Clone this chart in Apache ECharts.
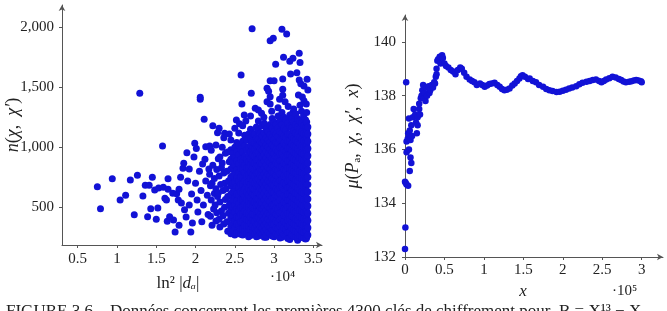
<!DOCTYPE html>
<html>
<head>
<meta charset="utf-8">
<title>n(chi, chi') and mu(P_a, chi, chi', x)</title>
<script src="https://cdn.jsdelivr.net/npm/echarts@6/dist/echarts.min.js"></script>
<style>
html, body { margin: 0; padding: 0; background: #fff; }
#main { width: 667px; height: 311px; }
</style>
</head>
<body>
<div id="main"></div>
<script>
// left plot: ln^2|d_a| (x 10^4) vs n(chi, chi')
const leftTicksX = [0.5, 1, 1.5, 2, 2.5, 3, 3.5];
const leftTicksY = [500, 1000, 1500, 2000];

// isolated points, read one by one
const sparsePts = [
  [0.75, 672], [0.79, 489], [0.94, 738], [1.04, 561], [1.11, 600], [1.17, 728],
  [1.22, 439], [1.26, 767], [1.29, 1450], [1.33, 594], [1.36, 683], [1.41, 683],
  [1.39, 422], [1.43, 489], [1.45, 750], [1.48, 644], [1.50, 400], [1.52, 495],
  [1.53, 660], [1.58, 1011], [1.59, 667], [1.61, 575], [1.63, 560], [1.65, 650],
  [1.65, 738], [1.64, 383], [1.67, 422], [1.71, 617], [1.72, 394], [1.74, 294],
  [1.76, 614], [1.78, 561], [1.79, 650], [1.81, 750], [1.79, 350], [1.82, 536],
  [1.84, 825], [1.85, 867], [1.86, 480], [1.89, 955], [1.88, 420], [1.90, 720],
  [1.92, 520], [1.92, 820], [1.94, 294], [1.95, 610], [1.96, 370], [1.98, 920],
  [1.99, 1033], [2.00, 700], [2.01, 990], [2.02, 560], [2.03, 460], [2.05, 800],
  [2.06, 1417], [2.06, 1400], [2.07, 640], [2.08, 380], [2.09, 860], [2.10, 520],
  [2.11, 1233], [2.12, 900], [2.13, 1005], [2.13, 720], [2.15, 600], [2.16, 440],
  [2.17, 820], [2.18, 1010], [2.19, 680], [2.22, 1180], [2.28, 1122], [2.30, 1158],
  [2.37, 1117], [2.43, 1111], [2.50, 1158], [2.52, 1228], [2.56, 1197], [2.58, 1603],
  [2.59, 1361], [2.62, 1270], [2.64, 1220], [2.70, 1261], [2.71, 1450], [2.72, 1989],
  [2.76, 1325], [2.80, 1310], [2.84, 1283], [2.87, 1250], [2.91, 1492], [2.91, 1380],
  [2.93, 1467], [2.95, 1889], [2.95, 1555], [2.95, 1422], [2.95, 1361], [2.97, 1300],
  [2.99, 1908], [3.00, 1555], [3.02, 1692], [3.05, 1330], [3.07, 1400], [3.10, 1983],
  [3.11, 1570], [3.11, 1483], [3.11, 1433], [3.12, 1750], [3.14, 1380], [3.16, 1944],
  [3.18, 1340], [3.20, 1717], [3.21, 1611], [3.24, 1742], [3.24, 1290], [3.29, 1622],
  [3.31, 1436], [3.32, 1783], [3.32, 1561], [3.33, 1706], [3.33, 1350], [3.34, 1530],
  [3.36, 1419], [3.38, 1389], [3.38, 1510], [3.41, 1360], [3.42, 1567], [3.43, 1478],
  [3.33, 180], [3.41, 240], [3.30, 225], [3.20, 232], [2.90, 250]
];

// ragged left edge of the cloud
const fringePts = [
  [2.21, 350], [2.19, 425], [2.23, 485], [2.20, 560], [2.24, 615], [2.21, 700], [2.18, 775], [2.22, 850], [2.20, 975],
  [2.26, 385], [2.27, 455], [2.25, 520], [2.28, 590], [2.26, 655], [2.24, 740], [2.27, 815], [2.29, 905], [2.26, 1020],
  [2.31, 335], [2.30, 400], [2.33, 470], [2.31, 545], [2.29, 620], [2.32, 690], [2.30, 760], [2.33, 830], [2.31, 920], [2.34, 1000],
  [2.36, 360], [2.35, 430], [2.37, 500], [2.38, 565], [2.35, 640], [2.37, 700], [2.36, 785], [2.34, 870], [2.38, 950], [2.36, 1080],
  [2.41, 300], [2.40, 380], [2.42, 450], [2.43, 520], [2.41, 590], [2.39, 655], [2.42, 720], [2.40, 800], [2.43, 880], [2.41, 960]
];

// the dense cloud, column by column: [x, [y values]]
const denseCols = [
  [2.45, [280, 340, 410, 480, 540, 610, 680, 750, 820, 900, 980, 1060]],
  [2.475, [300, 365, 430, 500, 560, 630, 700, 765, 835, 880, 950]],
  [2.50, [270, 330, 390, 460, 520, 580, 640, 710, 780, 850, 920, 1000]],
  [2.525, [285, 360, 420, 490, 555, 610, 675, 745, 815, 885, 960, 1040]],
  [2.55, [290, 350, 410, 470, 530, 600, 660, 720, 790, 860, 940, 1020, 1120]],
  [2.575, [275, 320, 380, 440, 500, 565, 630, 690, 755, 825, 900, 985]],
  [2.60, [270, 320, 380, 440, 500, 560, 620, 690, 750, 820, 880, 960, 1050, 1180]],
  [2.625, [300, 350, 410, 470, 530, 590, 655, 720, 790, 850, 920, 1010, 1100]],
  [2.65, [280, 340, 400, 450, 510, 570, 630, 700, 760, 830, 900, 980, 1060]],
  [2.675, [255, 305, 345, 395, 445, 500, 550, 605, 660, 715, 770, 825, 880, 935, 1000, 1110]],
  [2.70, [265, 315, 370, 420, 475, 525, 580, 635, 690, 740, 795, 850, 905, 960, 1020, 1080, 1150]],
  [2.725, [290, 340, 395, 445, 500, 555, 610, 660, 715, 770, 825, 880, 935, 990, 1050, 1120]],
  [2.75, [280, 330, 385, 440, 490, 545, 600, 650, 705, 760, 815, 870, 925, 985, 1040, 1110]],
  [2.775, [255, 305, 355, 410, 465, 515, 570, 625, 680, 730, 785, 840, 895, 950, 1010, 1075, 1170]],
  [2.80, [260, 310, 360, 415, 465, 520, 570, 625, 680, 735, 790, 845, 900, 955, 1010, 1070, 1140, 1220]],
  [2.825, [285, 335, 390, 440, 495, 545, 600, 655, 710, 760, 815, 870, 925, 985, 1045, 1120]],
  [2.85, [275, 325, 380, 430, 485, 540, 595, 645, 700, 755, 810, 865, 920, 975, 1035, 1095, 1180]],
  [2.875, [250, 300, 350, 400, 455, 505, 560, 615, 665, 720, 775, 830, 885, 940, 995, 1055, 1120, 1200]],
  [2.90, [265, 320, 370, 425, 475, 530, 585, 640, 695, 750, 800, 855, 910, 965, 1020, 1080, 1150]],
  [2.925, [290, 345, 400, 450, 505, 560, 615, 670, 720, 775, 830, 885, 940, 1000, 1060, 1130]],
  [2.95, [280, 335, 385, 440, 495, 550, 600, 655, 710, 765, 820, 875, 930, 985, 1045, 1105, 1190]],
  [2.975, [260, 310, 360, 415, 470, 520, 575, 630, 685, 740, 795, 850, 905, 960, 1020, 1080, 1160, 1240]],
  [3.00, [255, 305, 360, 410, 465, 520, 575, 625, 680, 735, 790, 845, 900, 950, 1005, 1065, 1130, 1210]],
  [3.025, [280, 330, 385, 440, 495, 545, 600, 655, 710, 765, 815, 870, 925, 980, 1040, 1110, 1190]],
  [3.05, [270, 325, 375, 430, 485, 540, 590, 645, 700, 755, 810, 860, 915, 970, 1030, 1090, 1160, 1260]],
  [3.075, [245, 295, 345, 400, 455, 510, 560, 615, 670, 725, 780, 835, 890, 945, 1000, 1060, 1130, 1220]],
  [3.10, [250, 300, 355, 410, 460, 515, 570, 620, 675, 730, 785, 840, 895, 950, 1005, 1060, 1120, 1190, 1290]],
  [3.125, [275, 330, 385, 435, 490, 545, 600, 650, 705, 760, 815, 870, 925, 980, 1035, 1095, 1160, 1250]],
  [3.15, [265, 320, 370, 425, 480, 535, 585, 640, 695, 750, 805, 860, 910, 965, 1020, 1080, 1145, 1230]],
  [3.175, [240, 290, 345, 395, 450, 505, 560, 610, 665, 720, 775, 830, 885, 940, 995, 1050, 1110, 1200]],
  [3.20, [245, 295, 350, 400, 455, 510, 560, 615, 670, 725, 780, 830, 885, 940, 995, 1050, 1110, 1175, 1270]],
  [3.225, [270, 325, 375, 430, 485, 540, 595, 645, 700, 755, 810, 865, 920, 975, 1030, 1090, 1160, 1240]],
  [3.25, [260, 315, 365, 420, 475, 530, 580, 635, 690, 745, 800, 850, 905, 960, 1015, 1075, 1140, 1210, 1320]],
  [3.275, [250, 300, 355, 405, 460, 515, 570, 620, 675, 730, 785, 840, 895, 950, 1005, 1060, 1120, 1190, 1280]],
  [3.30, [240, 290, 345, 395, 450, 505, 555, 610, 665, 720, 775, 825, 880, 935, 990, 1045, 1105, 1170, 1240]],
  [3.325, [265, 320, 370, 425, 480, 535, 590, 645, 700, 750, 805, 860, 915, 970, 1025, 1085, 1150, 1220]],
  [3.35, [255, 305, 360, 415, 470, 520, 575, 630, 685, 740, 790, 845, 900, 955, 1010, 1070, 1130, 1200, 1300]],
  [3.375, [245, 295, 350, 405, 460, 510, 565, 620, 675, 730, 780, 835, 890, 945, 1000, 1055, 1115, 1180, 1260]],
  [3.40, [235, 290, 340, 395, 450, 500, 555, 610, 665, 715, 770, 825, 880, 930, 985, 1040, 1100, 1160, 1230]],
  [3.415, [250, 305, 360, 415, 470, 525, 580, 635, 690, 745, 800, 855, 910, 965, 1020, 1080, 1140, 1210, 1290]],
  [3.43, [270, 330, 390, 450, 510, 570, 630, 690, 750, 810, 870, 930, 990, 1050, 1110, 1170]]
];

// right plot: x (x 10^5) vs mu(P_a, chi, chi', x)
const rightTicksX = [0, 0.5, 1, 1.5, 2, 2.5, 3];
const rightTicksY = [132, 134, 136, 138, 140];
const muX = [
  0.00, 0.005, 0.00, 0.01, 0.02, 0.04, 0.06, 0.07, 0.08, 0.02, 0.05, 0.02, 0.035, 0.07,
  0.04, 0.06, 0.09, 0.015, 0.05, 0.08, 0.10, 0.11, 0.13, 0.14, 0.15, 0.16, 0.16, 0.18,
  0.18, 0.19, 0.20, 0.21, 0.22, 0.23, 0.24, 0.25, 0.26, 0.27, 0.28, 0.30, 0.31, 0.32,
  0.34, 0.355, 0.37, 0.38, 0.39, 0.40, 0.40, 0.41, 0.42, 0.44, 0.45, 0.47, 0.48, 0.50,
  0.52, 0.55, 0.58, 0.61, 0.64, 0.67, 0.70, 0.72, 0.75, 0.78, 0.82, 0.85, 0.88, 0.91,
  0.95, 0.98, 1.01, 1.04, 1.07, 1.10, 1.135, 1.17, 1.20, 1.23, 1.26, 1.29, 1.325, 1.36,
  1.39, 1.42, 1.45, 1.47, 1.49, 1.52, 1.56, 1.58, 1.62, 1.66, 1.70, 1.75, 1.79, 1.83,
  1.87, 1.92, 1.96, 2.00, 2.04, 2.08, 2.12, 2.17, 2.21, 2.25, 2.30, 2.34, 2.38, 2.42,
  2.46, 2.49, 2.52, 2.55, 2.59, 2.63, 2.67, 2.71, 2.74, 2.77, 2.80, 2.84, 2.87, 2.90,
  2.93, 2.96, 2.99, 3.00
];
const muY = [
  132.3, 133.1, 134.8, 134.75, 134.7, 134.65, 135.2, 135.7, 135.5, 135.9, 136.0, 136.3, 136.4, 136.35,
  136.6, 136.7, 136.5, 138.5, 137.15, 136.9, 137.2, 137.5, 137.3, 137.0, 136.6, 136.9, 137.2, 137.5,
  137.7, 137.3, 137.9, 138.0, 138.2, 138.4, 137.9, 138.1, 137.8, 138.3, 138.0, 138.35, 138.1, 138.2,
  138.4, 138.3, 138.5, 138.45, 138.7, 139.0, 138.8, 139.3, 139.35, 139.45, 139.2, 139.5, 139.4, 139.2,
  139.1, 139.05, 138.95, 138.9, 138.8, 138.95, 139.05, 139.0, 138.85, 138.7, 138.6, 138.55, 138.5, 138.4,
  138.45, 138.4, 138.33, 138.38, 138.43, 138.45, 138.48, 138.4, 138.33, 138.25, 138.2, 138.22, 138.27, 138.38,
  138.45, 138.55, 138.64, 138.72, 138.76, 138.7, 138.62, 138.64, 138.55, 138.5, 138.4, 138.33, 138.25, 138.2,
  138.17, 138.14, 138.15, 138.18, 138.22, 138.27, 138.3, 138.35, 138.42, 138.48, 138.52, 138.55, 138.58, 138.6,
  138.55, 138.5, 138.55, 138.6, 138.65, 138.7, 138.68, 138.62, 138.58, 138.53, 138.5, 138.52, 138.54, 138.56,
  138.58, 138.56, 138.54, 138.5
];

const FONT = 'Liberation Serif';
const BLUE = '#1212d6';
const AXIS = '#555';

const leftData = sparsePts.concat(fringePts);
denseCols.forEach(function (col) {
  col[1].forEach(function (y) { leftData.push([col[0], y]); });
});
const rightData = muX.map(function (x, i) { return [x, muY[i]]; });

function axisBase(ticks, fmt, nameSize) {
  return {
    type: 'value',
    splitLine: { show: false },
    nameMoveOverlap: false,
    axisLine: {
      show: true, onZero: false,
      symbol: ['none', 'arrow'], symbolSize: [5, 6],
      lineStyle: { color: AXIS, width: 1 }
    },
    axisTick: { show: true, customValues: ticks, length: 3, lineStyle: { color: AXIS } },
    axisLabel: {
      customValues: ticks, color: '#222', fontFamily: FONT, fontSize: 15,
      formatter: fmt || function (v) { return String(v); }
    },
    nameTextStyle: {
      fontFamily: FONT, fontSize: nameSize, color: '#222',
      rich: { i: { fontFamily: FONT, fontSize: nameSize, fontStyle: 'italic', color: '#222' } }
    }
  };
}

const myChart = echarts.init(document.getElementById('main'));

const xLeft = axisBase(leftTicksX, null, 17);
Object.assign(xLeft, { gridIndex: 0, min: 0.3, max: 3.61, name: 'ln² |{i|dₐ}|',
  nameLocation: 'middle', nameGap: 30 });
xLeft.axisLabel.margin = 7;
xLeft.nameTextStyle.padding = [0, 28, 0, 0];

const yLeft = axisBase(leftTicksY, function (v) { return v.toLocaleString('en-US'); }, 18);
Object.assign(yLeft, { gridIndex: 0, min: 186, max: 2186, name: '{i|n}({i|χ},  {i|χ′})',
  nameLocation: 'middle', nameRotate: 90, nameGap: 40 });
yLeft.axisLabel.margin = 8;

const xRight = axisBase(rightTicksX, null, 17);
Object.assign(xRight, { gridIndex: 1, min: 0, max: 3.27, name: '{i|x}',
  nameLocation: 'middle', nameGap: 26 });
xRight.axisLabel.margin = 6;
xRight.nameTextStyle.padding = [0, 22, 0, 0];

const yRight = axisBase(rightTicksY, null, 18);
Object.assign(yRight, { gridIndex: 1, min: 132, max: 141, name: '{i|μ}({i|P}ₐ,  {i|χ},  {i|χ′},  {i|x})',
  nameLocation: 'middle', nameRotate: 90, nameGap: 43 });
yRight.axisLabel.margin = 9;

myChart.setOption({
  animation: false,
  backgroundColor: '#fff',
  grid: [
    { left: 62, top: 5, width: 260, height: 240, outerBoundsMode: 'none' },
    { left: 405, top: 15, width: 258, height: 242, outerBoundsMode: 'none' }
  ],
  xAxis: [xLeft, xRight],
  yAxis: [yLeft, yRight],
  series: [
    { type: 'scatter', xAxisIndex: 0, yAxisIndex: 0, symbolSize: 7,
      itemStyle: { color: BLUE, opacity: 1 }, data: leftData },
    { type: 'scatter', xAxisIndex: 1, yAxisIndex: 1, symbolSize: 6.5,
      itemStyle: { color: BLUE, opacity: 1 }, data: rightData }
  ],
  graphic: [
    { type: 'text', left: 270, top: 270,
      style: { text: '·10⁴', fontFamily: FONT, fontSize: 15, fill: '#222' } },
    { type: 'text', left: 612, top: 284,
      style: { text: '·10⁵', fontFamily: FONT, fontSize: 15, fill: '#222' } },
    { type: 'text', left: 6, top: 303,
      style: { text: 'FIGURE 3.6 – Données concernant les premières 4300 clés de chiffrement pour  B = X¹³ − X',
        fontFamily: FONT, fontSize: 17, fill: '#222' } }
  ]
});

window.addEventListener('resize', function () { myChart.resize(); });
</script>
</body>
</html>
